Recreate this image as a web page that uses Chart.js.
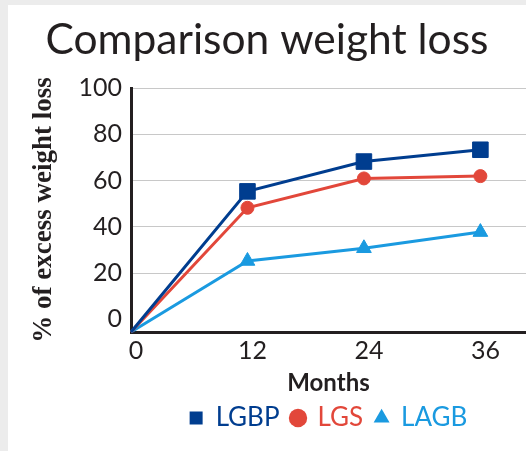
<!DOCTYPE html>
<html>
<head>
<meta charset="utf-8">
<script src="https://cdn.jsdelivr.net/npm/chart.js@4.4.1/dist/chart.umd.min.js"></script>
<style>
  html, body { margin: 0; padding: 0; background: #ececec; }
  #wrap { position: absolute; left: 8px; top: 5px; width: 518px; height: 446px; background: #fff; }
</style>
</head>
<body>
<div id="wrap"><canvas id="chart" width="518" height="446"></canvas></div>
<script>
// data
const months = [0, 12, 24, 36];
const yTicks = [0, 20, 40, 60, 80, 100];
const yMin = -5.5;   // lines start at the axis corner, a bit below the "0" tick
const lgbp = [-5.5, 55.3, 68.2, 73.3];
const lgs  = [-5.5, 48.2, 60.9, 61.9];
const lagb = [-5.5, 25.2, 30.7, 37.7];

const ink = '#231f20';
const font = 'Lato, "Open Sans", sans-serif';

function series(label, values, color, style, radius) {
  return {
    label: label,
    data: months.map((m, i) => ({x: m, y: values[i]})),
    borderColor: color,
    backgroundColor: color,
    borderWidth: 3,
    pointStyle: style,
    pointRadius: values.map((v, i) => i === 0 ? 0 : radius),
    pointHoverRadius: radius,
    pointBorderWidth: 1,
    tension: 0,
    clip: false
  };
}

const ctx = document.getElementById('chart').getContext('2d');
const chart = new Chart(ctx, {
  type: 'line',
  data: {
    datasets: [
      series('LGBP', lgbp, '#003d8f', 'rect', 11),
      series('LGS', lgs, '#e2473a', 'circle', 6.5),
      series('LAGB', lagb, '#1a9ae0', 'triangle', 8.5)
    ]
  },
  options: {
    responsive: false,
    animation: false,
    layout: { padding: { left: 0, right: 0, top: 0, bottom: 10 }, autoPadding: false },
    plugins: {
      title: {
        display: true,
        text: 'Comparison weight loss',
        color: ink,
        font: { family: font, size: 42.5, weight: 'normal' },
        padding: { top: 10, bottom: 22 }
      },
      legend: {
        position: 'bottom',
        fullSize: false,
        labels: {
          usePointStyle: true,
          boxWidth: 13,
          boxHeight: 13,
          padding: 12,
          font: { family: font, size: 26 },
          generateLabels: function(c) {
            const items = Chart.defaults.plugins.legend.labels.generateLabels(c);
            items.forEach(it => { it.fontColor = c.data.datasets[it.datasetIndex].borderColor; it.lineWidth = 0; });
            return items;
          }
        }
      },
      tooltip: { enabled: false }
    },
    scales: {
      x: {
        type: 'linear',
        min: 0,
        max: 40.7,
        afterBuildTicks: s => { s.ticks = months.map(v => ({value: v})); },
        afterFit: s => { s.height = 61; s.paddingRight = 0; s.paddingLeft = 0; },
        grid: { display: false, drawTicks: false, tickLength: 0 },
        border: { color: ink, width: 3 },
        ticks: { color: ink, font: { family: font, size: 25 }, padding: 4, labelOffset: 5, maxRotation: 0 },
        title: {
          display: true,
          text: 'Months',
          color: ink,
          font: { family: font, size: 24, weight: 'bold', lineHeight: 0.8 },
          padding: { top: 0, bottom: 0 }
        }
      },
      y: {
        min: yMin,
        max: 100,
        afterBuildTicks: s => { s.ticks = yTicks.map(v => ({value: v})); },
        afterFit: s => { s.width = 123; },
        grid: {
          color: c => c.tick && c.tick.value === 0 ? 'rgba(0,0,0,0)' : '#c8c8c8',
          lineWidth: 1,
          drawTicks: false
        },
        border: { color: ink, width: 3 },
        ticks: { color: ink, font: { family: font, size: 25 }, padding: 9 },
        title: {
          display: true,
          text: '% of excess weight loss',
          color: ink,
          font: { family: '"Liberation Serif", serif', size: 27, weight: 'bold' },
          padding: { top: 20, bottom: 0 }
        }
      }
    }
  }
});
</script>
</body>
</html>
